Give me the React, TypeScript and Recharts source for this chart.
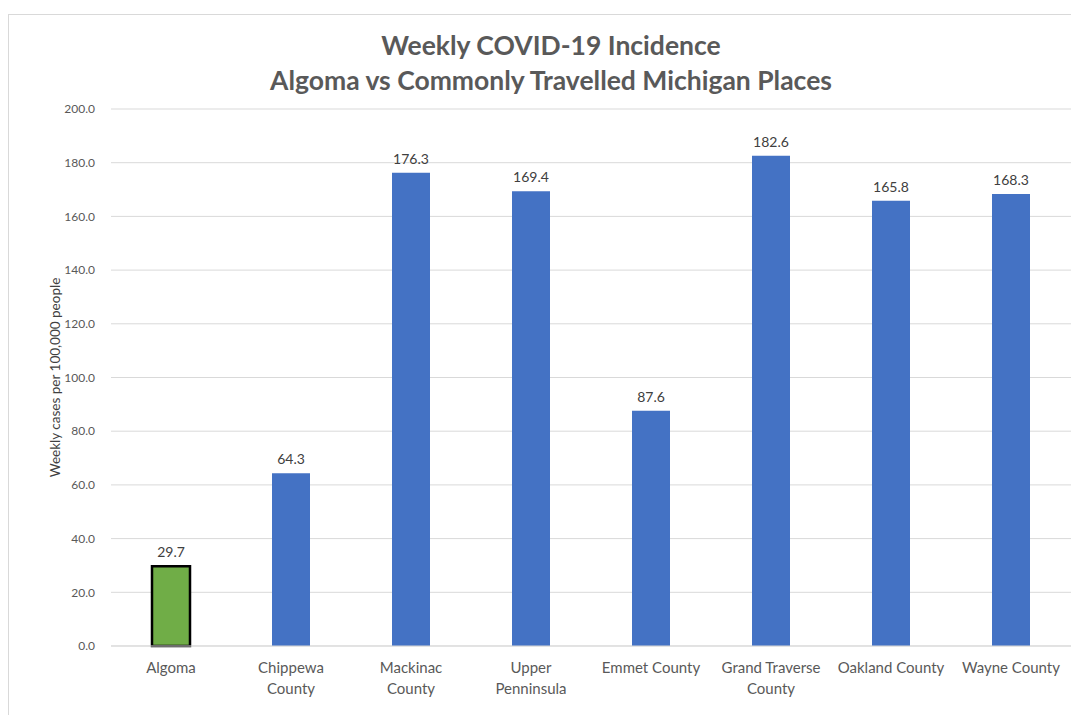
import React from "react";
import { BarChart, Bar, XAxis, YAxis, CartesianGrid, LabelList, Cell } from "recharts";

const categories = [
  "Algoma",
  "Chippewa\nCounty",
  "Mackinac\nCounty",
  "Upper\nPenninsula",
  "Emmet County",
  "Grand Traverse\nCounty",
  "Oakland County",
  "Wayne County",
];
const values = [29.7, 64.3, 176.3, 169.4, 87.6, 182.6, 165.8, 168.3];
const yTicks = [0, 20, 40, 60, 80, 100, 120, 140, 160, 180, 200];
const titleLines = ["Weekly COVID-19 Incidence", "Algoma vs Commonly Travelled Michigan Places"];
const yLabel = "Weekly cases per 100,000 people";

const data = categories.map((c, i) => ({ name: c, value: values[i] }));

const FONT = "Lato, 'Open Sans', 'Liberation Sans', sans-serif";

const CategoryTick = (props: any) => {
  const { x, y, payload } = props;
  const lines = String(payload.value).split("\n");
  return (
    <g transform={`translate(${x},${y})`}>
      {lines.map((l, i) => (
        <text
          key={i}
          x={0}
          y={19 + i * 21}
          textAnchor="middle"
          fill="#595959"
          fontSize={15}
          fontFamily={FONT}
        >
          {l}
        </text>
      ))}
    </g>
  );
};

export default function App() {
  return (
    <div
      style={{
        position: "relative",
        width: 1070,
        height: 712,
        marginTop: 6,
        border: "1px solid #d9d9d9",
        boxSizing: "border-box",
        background: "#fff",
      }}
    >
      <div
        style={{
          position: "absolute",
          left: 0,
          top: 13,
          width: 1084,
          textAlign: "center",
          fontFamily: FONT,
          fontWeight: 700,
          fontSize: 26.5,
          lineHeight: "35px",
          color: "#595959",
        }}
      >
        {titleLines.map((t, i) => (
          <div key={i}>{t}</div>
        ))}
      </div>
      <BarChart
        width={1070}
        height={701}
        data={data}
        margin={{ top: 94, right: 8, left: 0, bottom: 10 }}
        barCategoryGap="34%"
      >
        <CartesianGrid vertical={false} stroke="#d9d9d9" />
        <XAxis
          dataKey="name"
          interval={0}
          tick={<CategoryTick />}
          tickLine={false}
          axisLine={{ stroke: "#d9d9d9" }}
          height={60}
        />
        <YAxis
          width={102}
          domain={[0, 200]}
          ticks={yTicks}
          tickFormatter={(v: number) => v.toFixed(1)}
          tick={{ fill: "#595959", fontSize: 12, fontFamily: FONT }}
          tickLine={false}
          axisLine={false}
          tickMargin={10}
          label={{
            value: yLabel,
            angle: -90,
            position: "insideLeft",
            dx: 41,
            dy: 0,
            style: { textAnchor: "middle", fill: "#404040", fontSize: 13.5, fontFamily: FONT },
          }}
        />
        <Bar dataKey="value" barSize={38} isAnimationActive={false}>
          {data.map((d, i) => (
            <Cell
              key={i}
              fill={i === 0 ? "#70AD47" : "#4472C4"}
              stroke={i === 0 ? "#000000" : "none"}
              strokeWidth={i === 0 ? 2.5 : 0}
            />
          ))}
          <LabelList
            dataKey="value"
            position="top"
            offset={9}
            formatter={(v: any) => Number(v).toFixed(1)}
            style={{ fill: "#404040", fontSize: 14, fontFamily: FONT }}
          />
        </Bar>
      </BarChart>
    </div>
  );
}
